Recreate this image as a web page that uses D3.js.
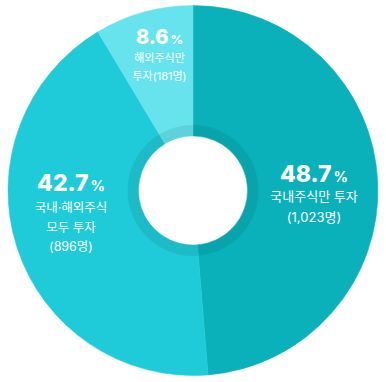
<!DOCTYPE html>
<html>
<head>
<meta charset="utf-8">
<script src="https://cdn.jsdelivr.net/npm/d3@7"></script>
<style>
  html, body { margin: 0; padding: 0; background: #ffffff; }
  svg { display: block; }
</style>
</head>
<body>
<svg id="chart" width="386" height="382"></svg>
<script>
// ---- data ----
const categories = ["국내주식만 투자", "국내·해외주식 모두 투자", "해외주식만 투자"];
const percents = [48.7, 42.7, 8.6];
const counts = ["1,023", "896", "181"];
const labelTexts = [
  ["국내주식만 투자", "(1,023명)"],
  ["국내·해외주식", "모두 투자", "(896명)"],
  ["해외주식만", "투자(181명)"]
];

// ---- layout / style ----
const W = 386, H = 382;
const cx = 193, cy = 190.5;
const outerR = 185, innerR = 54.5, ringR = 65.5;
const colors = ["#0ab1ba", "#1fcbd8", "#66e3ec"];
// label anchor = baseline of the percentage, offset from centre
const labelLayout = [
  { dx: 121, dy: -8.5, numSize: 23, txtSize: 13, firstGap: 18.5, lineGap: 21 },
  { dx: -122, dy: 0.5, numSize: 23, txtSize: 12.5, firstGap: 21, lineGap: 19.7 },
  { dx: -33.5, dy: -146.5, numSize: 20, txtSize: 11, firstGap: 18, lineGap: 18 }
];

const svg = d3.select("#chart");
const g = svg.append("g").attr("transform", `translate(${cx},${cy})`);

const pie = d3.pie().sort(null).value(d => d);
const arcs = pie(percents);
const arc = d3.arc().innerRadius(innerR).outerRadius(outerR);

g.selectAll("path.slice")
  .data(arcs)
  .join("path")
  .attr("class", "slice")
  .attr("d", arc)
  .attr("fill", (d, i) => colors[i])
  .attr("stroke", (d, i) => colors[i])
  .attr("stroke-width", 0.5);

// darker inner ring
const ringArc = d3.arc().innerRadius(innerR).outerRadius(ringR).startAngle(0).endAngle(2 * Math.PI);
g.append("path").attr("d", ringArc()).attr("fill", "#000").attr("fill-opacity", 0.075);

// labels
const fontNum = "Inter, 'Noto Sans CJK KR', sans-serif";
const fontTxt = "Inter, 'Noto Sans CJK KR', 'Noto Sans', sans-serif";
arcs.forEach((a, i) => {
  const L = labelLayout[i];
  const lg = g.append("g").attr("transform", `translate(${L.dx},${L.dy})`);
  const num = lg.append("text")
    .attr("x", 0).attr("y", 0)
    .attr("text-anchor", "middle")
    .attr("fill", "#fff")
    .style("font-family", fontNum);
  num.append("tspan").text(d3.format(".1f")(percents[i]))
    .style("font-size", L.numSize + "px").style("font-weight", 800);
  num.append("tspan").text("%")
    .attr("dx", 2)
    .style("font-size", (L.numSize * 0.62) + "px").style("font-weight", 700);
  labelTexts[i].forEach((s, j) => {
    lg.append("text")
      .attr("x", 0)
      .attr("y", L.firstGap + j * L.lineGap)
      .attr("text-anchor", "middle")
      .attr("fill", "#fff")
      .style("font-family", fontTxt)
      .style("font-size", L.txtSize + "px")
      .style("font-weight", 400)
      .text(s);
  });
});
</script>
</body>
</html>
